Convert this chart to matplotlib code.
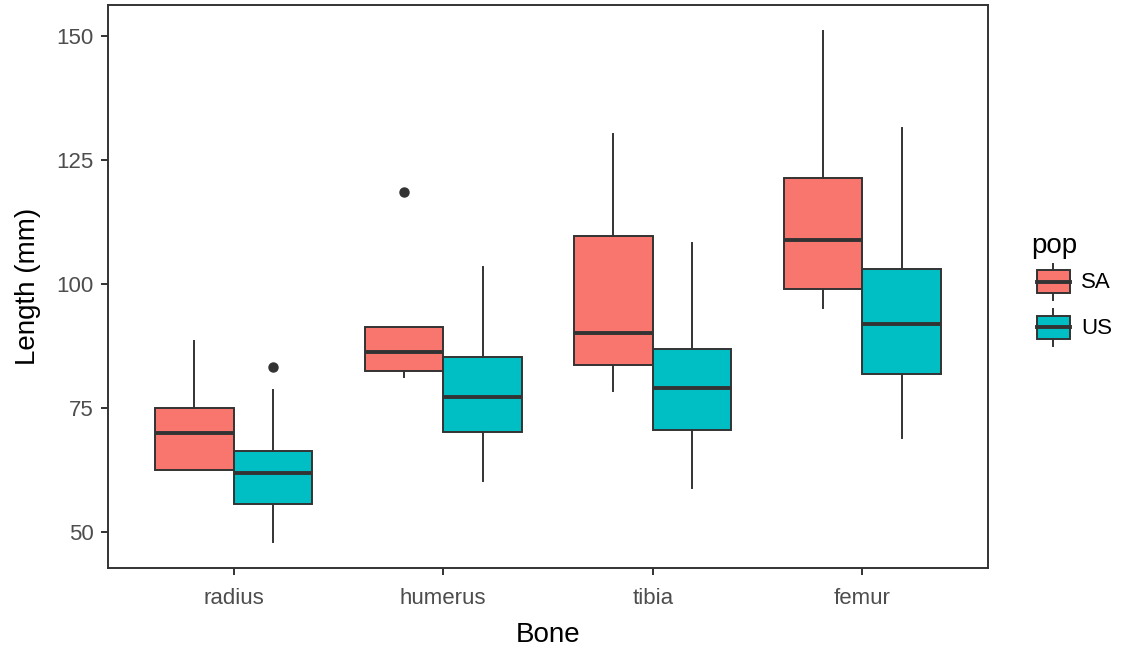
import matplotlib
matplotlib.use("Agg")
import matplotlib.pyplot as plt
from matplotlib.patches import Patch, Rectangle
from matplotlib.lines import Line2D
from matplotlib.legend_handler import HandlerBase

plt.rcParams["font.family"] = ["Liberation Sans", "DejaVu Sans"]

bones = ["radius", "humerus", "tibia", "femur"]
pops = ["SA", "US"]
colors = {"SA": "#F8766D", "US": "#00BFC4"}

# five-number summaries per bone, one list per population
sa_whislo = [62.4, 81.3, 78.4, 95.2]
sa_q1 = [62.4, 82.5, 83.7, 99.0]
sa_med = [69.9, 86.3, 90.0, 108.8]
sa_q3 = [75.0, 91.3, 109.7, 121.4]
sa_whishi = [88.5, 91.3, 130.2, 151.0]
sa_fliers = [[], [118.5], [], []]

us_whislo = [47.9, 60.3, 58.8, 68.9]
us_q1 = [55.6, 70.1, 70.5, 81.8]
us_med = [61.8, 77.1, 79.1, 91.9]
us_q3 = [66.3, 85.3, 86.9, 102.9]
us_whishi = [78.6, 103.4, 108.2, 131.4]
us_fliers = [[83.3], [], [], []]

EDGE = "#333333"
LW = 1.4


def make_stats(whislo, q1, med, q3, whishi, fliers):
    return [dict(whislo=a, q1=b, med=c, q3=d, whishi=e, fliers=f)
            for a, b, c, d, e, f in zip(whislo, q1, med, q3, whishi, fliers)]


class BoxKeyHandler(HandlerBase):
    # small boxplot glyph used as legend key
    def create_artists(self, legend, orig_handle, xdescent, ydescent,
                       width, height, fontsize, trans):
        x0, y0 = -xdescent, -ydescent
        bx = x0 + 0.125 * width
        bw = 0.75 * width
        whisk = Line2D([x0 + width / 2] * 2, [y0 + 0.1 * height, y0 + 0.9 * height],
                       color=EDGE, lw=LW, transform=trans)
        box = Rectangle((bx, y0 + 0.25 * height), bw, 0.5 * height,
                        facecolor=orig_handle.get_facecolor(), edgecolor=EDGE,
                        lw=LW, transform=trans)
        med = Line2D([bx, bx + bw], [y0 + 0.5 * height] * 2,
                     color=EDGE, lw=LW * 2, transform=trans)
        return [whisk, box, med]


fig = plt.figure(figsize=(11.25, 6.46), dpi=100)
ax = fig.add_axes([108 / 1125, 1 - 568 / 646, 880 / 1125, 563 / 646])

stats = {"SA": make_stats(sa_whislo, sa_q1, sa_med, sa_q3, sa_whishi, sa_fliers),
         "US": make_stats(us_whislo, us_q1, us_med, us_q3, us_whishi, us_fliers)}
width = 0.375
for j, pop in enumerate(pops):
    offset = (j - 0.5) * width
    pos = [i + 1 + offset for i in range(len(bones))]
    ax.bxp(stats[pop], positions=pos, widths=width, patch_artist=True,
           showcaps=False,
           boxprops=dict(facecolor=colors[pop], edgecolor=EDGE, linewidth=LW),
           whiskerprops=dict(color=EDGE, linewidth=LW),
           medianprops=dict(color=EDGE, linewidth=LW * 2),
           flierprops=dict(marker="o", markerfacecolor=EDGE, markeredgecolor=EDGE,
                           markersize=6.5))

lo = min(sa_whislo + us_whislo)
hi = max(sa_whishi + us_whishi)
pad = (hi - lo) * 0.05
ax.set_ylim(lo - pad, hi + pad)
ax.set_xlim(0.4, len(bones) + 0.6)
ax.set_xticks(range(1, len(bones) + 1))
ax.set_xticklabels(bones)
ax.set_yticks([50, 75, 100, 125, 150])

for s in ax.spines.values():
    s.set_color(EDGE)
    s.set_linewidth(LW)
ax.tick_params(axis="both", length=5, width=LW, color=EDGE,
               labelcolor="#4D4D4D", labelsize=16)
ax.tick_params(axis="x", pad=9.5)
ax.tick_params(axis="y", pad=5.2)
ax.set_xlabel("Bone", fontsize=20, labelpad=9)
ax.set_ylabel("Length (mm)", fontsize=20, labelpad=11.5)

handles = [Patch(facecolor=colors[p], edgecolor=EDGE) for p in pops]
leg = fig.legend(handles, pops, title="pop", loc="upper left",
                 bbox_to_anchor=(1031 / 1125, 1 - 233 / 646),
                 frameon=False, fontsize=16, title_fontsize=20,
                 handler_map={Patch: BoxKeyHandler()},
                 handlelength=2.0, handleheight=2.78, labelspacing=0,
                 handletextpad=0.25, borderpad=0, borderaxespad=0,
                 alignment="left")

fig.savefig("out.png", dpi=100)
